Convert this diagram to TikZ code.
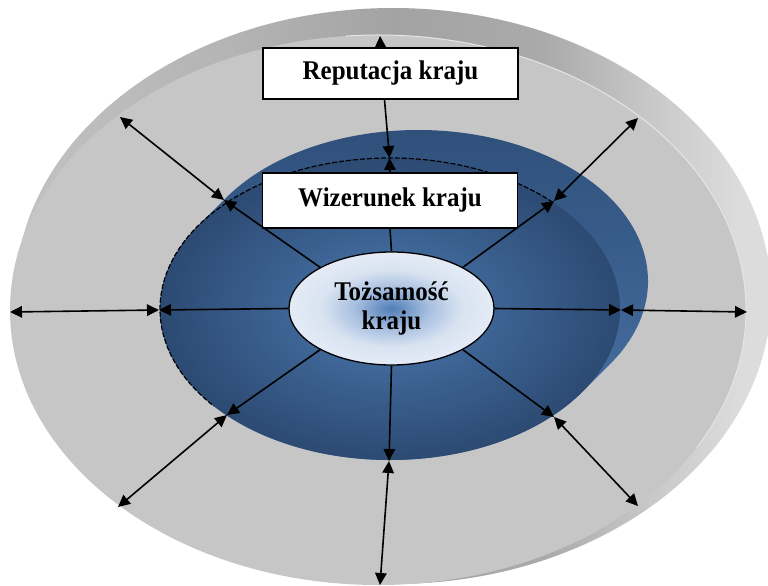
\documentclass[tikz,border=0pt]{standalone}
\usepackage{fontspec}
\setmainfont{Liberation Serif}
\usetikzlibrary{arrows.meta, shapes.geometric}

\definecolor{facegray}{HTML}{C6C6C6}
\definecolor{sideL}{HTML}{C2C2C2}
\definecolor{sideA}{HTML}{B3B3B3}
\definecolor{sideB}{HTML}{A3A3A3}
\definecolor{sideC}{HTML}{AAAAAA}
\definecolor{sideD}{HTML}{C8C8C8}
\definecolor{sideE}{HTML}{DCDCDC}
\definecolor{sideR}{HTML}{E2E2E2}
\definecolor{bandT}{HTML}{2E4E78}
\definecolor{bandM}{HTML}{4470A5}
\definecolor{bandB}{HTML}{4A76AB}
\definecolor{bowlA}{HTML}{4B79B1}
\definecolor{bowlB}{HTML}{2C4A72}
\definecolor{tozA}{HTML}{4F7DB8}
\definecolor{tozB}{HTML}{A7BFDF}
\definecolor{tozC}{HTML}{D8E3F1}
\definecolor{tozD}{HTML}{E4EBF6}

% side wall of the disc: darker on top, lighter to the right
% (the path's bounding box spans 25bp..75bp of the shading)
\pgfdeclarehorizontalshading{cylside}{100bp}{color(0bp)=(sideL); color(25bp)=(sideL);
  color(40bp)=(sideA); color(50bp)=(sideB); color(60bp)=(sideC); color(67bp)=(sideD);
  color(73bp)=(sideE); color(100bp)=(sideR)}
% floor of the blue bowl
\pgfdeclareradialshading{bowl}{\pgfpoint{0bp}{0bp}}{color(0bp)=(bowlA); color(25bp)=(bowlB); color(50bp)=(bowlB)}
% core ellipse: blue centre fading to pale edge
\pgfdeclareradialshading{tozshade}{\pgfpoint{0bp}{0bp}}{color(0bp)=(tozA); color(9bp)=(tozB); color(17bp)=(tozC); color(25bp)=(tozD); color(50bp)=(tozD)}

\newcommand{\tall}[1]{\scalebox{1}[1.08]{#1}}

\tikzset{
  labelfont/.style={font=\fontsize{25}{29}\selectfont\bfseries},
  box/.style={draw, line width=1.3pt, fill=white, inner sep=0pt,
              minimum width=255pt, labelfont},
  arr/.style={-{Triangle[length=12pt,width=11.5pt]}, line width=1.6pt},
  darr/.style={{Triangle[length=12pt,width=11.5pt]}-{Triangle[length=12pt,width=11.5pt]}, line width=1.6pt},
  rim/.style={line width=1.2pt, dash pattern=on 5pt off 2pt},
}

\begin{document}
\begin{tikzpicture}[x=1pt, y=-1pt]
\useasboundingbox (0,0) rectangle (768,586);

% ---- grey disc: back rim, then the top face ----
\coordinate (bc) at (393,296);
\coordinate (fc) at (378,310);
\path[shading=cylside] (bc) ellipse[x radius=378pt, y radius=288pt];
\fill[facegray] (fc) ellipse[x radius=368pt, y radius=275pt];
\draw[white!55!facegray, line width=1pt]
  ([shift={(95:368pt and 275pt)}]fc)
  arc[start angle=95, end angle=-30, x radius=368pt, y radius=275pt];

% ---- blue bowl ----
\coordinate (mc) at (390,309);
\coordinate (mb) at (418,281);
\path[top color=bandT, middle color=bandM, bottom color=bandB]
  ([shift={(-33.3:230pt and 151pt)}]mb)
  arc[start angle=-33.3, end angle=146.7, x radius=230pt, y radius=151pt]
  -- ([shift={(146.7:230pt and 151pt)}]mc)
  arc[start angle=146.7, end angle=326.7, x radius=230pt, y radius=151pt]
  -- cycle;
\path[shading=bowl] (mc) ellipse[x radius=230pt, y radius=151pt];
\draw[rim] ([shift={(45:230pt and 151pt)}]mc)
  arc[start angle=45, end angle=220, x radius=230pt, y radius=151pt];

% ---- points on the bowl rim ----
\coordinate (mT)  at (389.5,158);
\coordinate (mL)  at (159,310);
\coordinate (mR)  at (621,310);
\coordinate (mUL) at (224,200);
\coordinate (mUR) at (554,201);
\coordinate (mLL) at (227,415);
\coordinate (mLR) at (554,417);
\coordinate (mB)  at (389,461);

% ---- points on the disc rim ----
\coordinate (oT)  at (380,36);
\coordinate (oL)  at (10,312);
\coordinate (oR)  at (747,312);
\coordinate (oUL) at (120,117);
\coordinate (oUR) at (638,118);
\coordinate (oLL) at (118,507);
\coordinate (oLR) at (638,506);
\coordinate (oB)  at (380,585);

% ---- labels ----
\node[box, minimum height=51pt] (rep) at (390.5,73.5) {\tall{Reputacja kraju}};
\node[box, minimum height=55pt] (wiz) at (390,200.5) {\tall{Wizerunek kraju}};
\node[ellipse, draw, line width=1.3pt, shading=tozshade, inner sep=0pt,
      minimum width=205pt, minimum height=113pt, labelfont]
      (toz) at (391.5,308.5)
      {\tall{\begin{tabular}{@{}c@{}}Tożsamość\\[-2pt]kraju\end{tabular}}};

% ---- connectors ----
\draw[line width=1.6pt] (wiz.south) -- (toz.north);
\draw[arr] (wiz.north) -- (mT);
\draw[arr] ([xshift=-6pt]rep.south) -- (mT);
\draw[arr] ([xshift=-10pt]rep.north) -- (oT);

\draw[arr] (toz.west) -- (mL);
\draw[arr] (toz.east) -- (mR);
\draw[arr] (toz.150) -- (mUL);
\draw[arr] (toz.30) -- (mUR);
\draw[arr] (toz.210) -- (mLL);
\draw[arr] (toz.330) -- (mLR);
\draw[arr] (toz.south) -- (mB);

\draw[darr] (mL) -- (oL);
\draw[darr] (mR) -- (oR);
\draw[darr] (mUL) -- (oUL);
\draw[darr] (mUR) -- (oUR);
\draw[darr] (mLL) -- (oLL);
\draw[darr] (mLR) -- (oLR);
\draw[darr] (mB) -- (oB);
\end{tikzpicture}
\end{document}
